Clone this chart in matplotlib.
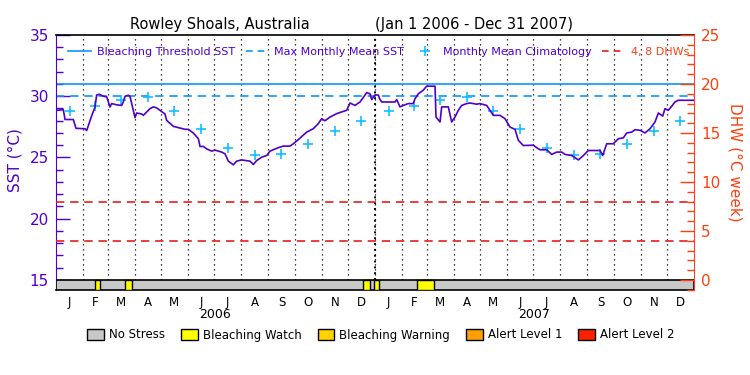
import numpy as np
import matplotlib.pyplot as plt
from matplotlib.lines import Line2D
from matplotlib.patches import Patch, Rectangle
from matplotlib.ticker import MultipleLocator

# SST time series, day counted from Jan 1 2006
sst_day = [0, 0.8, 8.4, 10.3, 19.8, 22.9, 33.2, 35.1, 37.0, 40.8, 44.6, 46.5, 49.6, 54.2,
           58.0, 59.9, 61.8, 63.7, 69.4, 75.1, 77.0, 79.0, 82.8, 84.7, 86.6, 90.4, 92.3,
           98.0, 99.9, 107.6, 111.4, 115.2, 119.0, 124.7, 126.6, 134.3, 141.9, 147.6,
           151.4, 157.1, 162.9, 164.8, 168.6, 172.4, 178.1, 181.9, 189.6, 193.4, 197.2,
           202.9, 206.7, 212.4, 222.0, 225.8, 229.6, 235.4, 241.1, 244.9, 254.4, 260.1,
           267.7, 271.6, 279.2, 286.8, 294.4, 300.1, 304.0, 307.8, 313.5, 321.2, 326.9,
           332.6, 336.4, 342.1, 347.8, 351.6, 355.5, 359.3, 361.2, 365.0, 368.8, 370.7,
           372.7, 378.4, 387.9, 389.8, 393.6, 397.4, 403.1, 408.8, 410.8, 414.6, 420.3,
           424.1, 433.7, 434.8, 439.4, 441.3, 448.9, 452.7, 456.5, 460.3, 464.2, 469.9,
           473.7, 481.3, 485.1, 492.8, 496.6, 500.4, 508.0, 513.7, 519.5, 525.2, 529.0,
           534.7, 546.2, 550.0, 553.8, 561.5, 567.2, 572.9, 578.6, 582.4, 590.1, 597.7,
           603.4, 609.1, 622.5, 625.5, 630.1, 637.7, 643.4, 649.1, 653.0, 658.7, 662.5,
           668.2, 673.9, 679.7, 685.4, 689.2, 694.2, 696.8, 700.6, 704.4, 708.2, 712.0,
           730.0]
sst_val = [29.1, 28.85, 28.9, 28.1, 28.1, 27.38, 27.35, 27.2, 27.6, 28.4, 29.1, 30.1, 30.16,
           30.0, 29.95, 29.53, 29.12, 29.4, 29.3, 29.25, 29.53, 30.0, 30.08, 30.0, 29.4,
           28.25, 28.63, 28.55, 28.44, 28.99, 29.13, 29.05, 28.85, 28.55, 28.03, 27.54,
           27.4, 27.3, 27.3, 27.0, 26.53, 25.9, 25.9, 25.7, 25.52, 25.6, 25.44, 25.3,
           24.7, 24.4, 24.7, 24.8, 24.7, 24.43, 24.75, 25.03, 25.16, 25.52, 25.8, 25.93,
           25.93, 26.12, 26.58, 27.07, 27.35, 27.76, 28.17, 28.0, 28.3, 28.58, 28.72,
           28.85, 29.45, 29.25, 29.53, 29.9, 30.3, 30.2, 29.73, 30.1, 30.1, 29.73,
           29.53, 29.53, 29.53, 29.73, 29.13, 29.25, 29.4, 29.4, 29.8, 30.2, 30.5,
           30.82, 30.82, 28.3, 27.9, 29.13, 29.13, 27.9, 28.3, 28.85, 29.25, 29.4,
           29.45, 29.35, 29.4, 29.25, 28.85, 28.44, 28.44, 28.17, 27.48, 27.3, 26.4,
           25.98, 26.0, 25.8, 25.63, 25.63, 25.25, 25.44, 25.44, 25.25, 25.16, 24.8,
           25.16, 25.57, 25.57, 25.16, 26.12, 26.12, 26.53, 26.6, 27.0, 27.07, 27.27,
           27.22, 27.0, 27.35, 27.9, 28.63, 28.38, 28.99, 28.85, 29.18, 29.53, 29.67,
           29.67]

# monthly mean climatology (Jan..Dec)
clim_sst = [28.77, 29.2, 29.67, 29.95, 28.77, 27.35, 25.8, 25.22, 25.3, 26.12, 27.13, 27.95]

mmm = 30.0
bleach_threshold = 31.0
dhw_levels = [4, 8]

# bleaching watch periods (day numbers)
watch_start = [44.6, 79.3, 351.6, 363.8, 413.4]
watch_end = [50.7, 86.6, 359.6, 369.9, 432.8]

month_letters = ['J', 'F', 'M', 'A', 'M', 'J', 'J', 'A', 'S', 'O', 'N', 'D']
month_len = [31, 28, 31, 30, 31, 30, 31, 31, 30, 31, 30, 31]
years = ['2006', '2007']

stress_names = ['No Stress', 'Bleaching Watch', 'Bleaching Warning', 'Alert Level 1', 'Alert Level 2']
stress_colors = ['#c8c8c8', '#ffff00', '#ffd200', '#ffa000', '#ff2000']

purple = '#5000c8'
orange = '#ff4010'
blue = '#0a96ff'
cyan = '#14bcff'
red = '#e81c1c'

lens = month_len * 2
m_start = np.concatenate([[0], np.cumsum(lens)[:-1]])
m_mid = m_start + np.array(lens) / 2.0

fig = plt.figure(figsize=(7.5, 3.75), dpi=100)
ax = fig.add_axes([56 / 750, 85 / 375, 638 / 750, 255 / 375])
ax.set_xlim(0, 730)
ybot = 15 - 10 / 12.2
ax.set_ylim(ybot, 35)

ax2 = ax.twinx()
ax2.set_ylim(-10 / 9.8, 25)

# month separators
ax.vlines(m_start[1:], 15, 35, colors='k', linestyles=(0, (1, 3)), lw=0.9, zorder=1)
ax.vlines([365], 15, 35, colors='k', linestyles=(0, (1, 2)), lw=1.4, zorder=1)

# stress bar
ax.add_patch(Rectangle((0, ybot), 730, 15 - ybot, fc=stress_colors[0], ec='k', lw=1.2, zorder=3))
for s, e in zip(watch_start, watch_end):
    ax.add_patch(Rectangle((s, ybot), e - s, 15 - ybot, fc=stress_colors[1], ec='k', lw=1, zorder=3))

ax.axhline(bleach_threshold, color=blue, lw=1.2, zorder=2)
ax.axhline(mmm, color=blue, lw=1.2, ls=(0, (5, 3.5)), zorder=2)
ax.plot(m_mid, clim_sst * 2, ls='none', marker='+', color=cyan, ms=7.5, mew=1.2, zorder=4)
ax.plot(sst_day, sst_val, color=purple, lw=1.2, zorder=5)

for lv in dhw_levels:
    ax2.axhline(lv, color=red, lw=1.2, ls=(0, (5, 3.5)))

# axes styling
for sp in ['top', 'bottom']:
    ax.spines[sp].set_color('k')
    ax.spines[sp].set_linewidth(1.2)
ax.spines['left'].set_color(purple)
ax.spines['right'].set_visible(False)
for sp in ['left', 'top', 'bottom']:
    ax2.spines[sp].set_visible(False)
ax2.spines['right'].set_color(orange)

ax.yaxis.set_major_locator(MultipleLocator(5))
ax.yaxis.set_minor_locator(MultipleLocator(1))
ax.tick_params(axis='y', which='both', direction='in', colors=purple, labelsize=11, pad=5)
ax.tick_params(axis='y', which='major', length=10, width=1)
ax.tick_params(axis='y', which='minor', length=5, width=1)

ax2.yaxis.set_major_locator(MultipleLocator(5))
ax2.yaxis.set_minor_locator(MultipleLocator(1))
ax2.tick_params(axis='y', which='both', direction='in', colors=orange, labelsize=11, pad=5)
ax2.tick_params(axis='y', which='major', length=10, width=1)
ax2.tick_params(axis='y', which='minor', length=5, width=1)

ax.set_xticks(m_mid)
ax.set_xticklabels(month_letters * 2)
ax.tick_params(axis='x', length=0, pad=4, labelsize=8.5)

for i, yr in enumerate(years):
    ax.text(182.5 + 365 * i, -0.098, yr, transform=ax.get_xaxis_transform(),
            ha='center', va='center', fontsize=9)

# titles and axis labels
fig.text(130 / 750, 1 - 29.5 / 375, 'Rowley Shoals, Australia', ha='left', va='baseline', fontsize=10.5)
fig.text(375 / 750, 1 - 29.5 / 375, '(Jan 1 2006 - Dec 31 2007)', ha='left', va='baseline', fontsize=10.5)
fig.text(15 / 750, 1 - 160 / 375, 'SST (°C)', rotation=90, ha='center', va='center', color=purple, fontsize=11)
fig.text(735 / 750, 1 - 162 / 375, 'DHW (°C week)', rotation=270, ha='center', va='center', color=orange, fontsize=11)

# top legend
handles = [Line2D([], [], color=blue, lw=1.2),
           Line2D([], [], color=blue, lw=1.2, ls=(0, (4, 3))),
           Line2D([], [], color=cyan, marker='+', ls='none', ms=7.5, mew=1.2),
           Line2D([], [], color=red, lw=1.2, ls=(0, (4, 3)))]
labels = ['Bleaching Threshold SST', 'Max Monthly Mean SST', 'Monthly Mean Climatology', '4, 8 DHWs']
leg = ax2.legend(handles, labels, loc='upper center', bbox_to_anchor=(0.506, 0.97), ncol=4,
                 frameon=False, fontsize=8, handlelength=2, handletextpad=0.6,
                 columnspacing=0.9, borderaxespad=0)
for t, c in zip(leg.get_texts(), [purple, purple, purple, orange]):
    t.set_color(c)

# stress legend
patches = [Patch(fc=c, ec='k', lw=1) for c in stress_colors]
fig.legend(patches, stress_names, loc='center', bbox_to_anchor=(0.508, 1 - 335 / 375), ncol=5,
           frameon=False, fontsize=8.5, handlelength=1.4, handleheight=1.0,
           handletextpad=0.45, columnspacing=1.35)

fig.savefig('out.png', dpi=100)
